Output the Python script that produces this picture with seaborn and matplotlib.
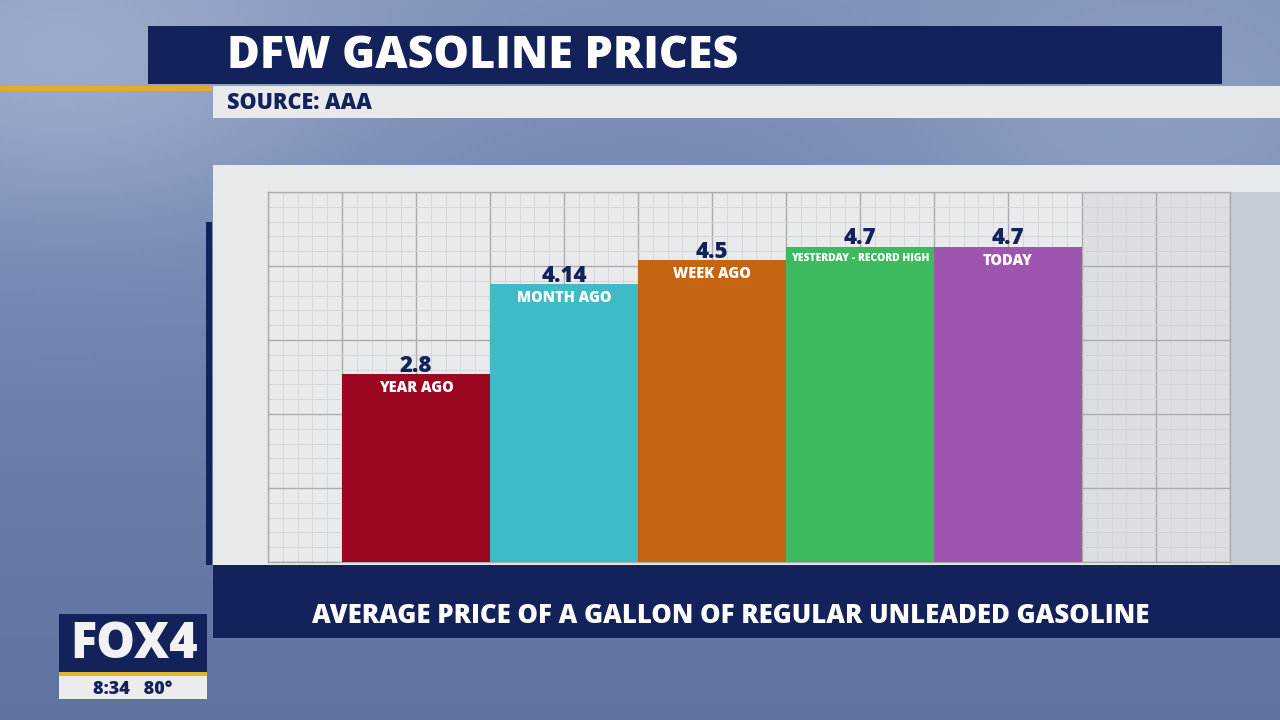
import numpy as np
import pandas as pd
import matplotlib
matplotlib.use("Agg")
import matplotlib.pyplot as plt
from matplotlib.patches import Rectangle
from matplotlib.ticker import MultipleLocator
from matplotlib.colors import LinearSegmentedColormap
import seaborn as sns

# chart data
periods = ["YEAR AGO", "MONTH AGO", "WEEK AGO", "YESTERDAY - RECORD HIGH", "TODAY"]
prices = [2.8, 4.14, 4.5, 4.7, 4.7]
price_labels = ["2.8", "4.14", "4.5", "4.7", "4.7"]
bar_colors = ["#9b0620", "#3ebbc7", "#c56512", "#3dba5e", "#9e55b0"]

title = "DFW GASOLINE PRICES"
source = "SOURCE: AAA"
caption = "AVERAGE PRICE OF A GALLON OF REGULAR UNLEADED GASOLINE"

NAVY = "#13225a"
GOLD = "#e6a92a"
PANEL = "#e8e9ea"
W, H = 1280, 720

plt.rcParams['font.family'] = ['Open Sans', 'DejaVu Sans']

fig = plt.figure(figsize=(12.8, 7.2), dpi=100)


def px_rect(x0, y0, x1, y1, color, z=1):
    r = Rectangle((x0 / W, 1 - y1 / H), (x1 - x0) / W, (y1 - y0) / H,
                  transform=fig.transFigure, facecolor=color, lw=0, zorder=z)
    fig.add_artist(r)


def px_text(x, y, s, **kw):
    kw.setdefault('zorder', 20)
    fig.text(x / W, 1 - y / H, s, **kw)


# studio background
bg_ax = fig.add_axes([0, 0, 1, 1], zorder=-10)
yy, xx = np.mgrid[0:1:180j, 0:1:320j]
shade = 0.55 - 0.3 * yy + 0.25 * np.exp(-((xx - 0.05) ** 2 + (yy - 0.1) ** 2) / 0.05) \
    + 0.15 * np.exp(-((xx - 0.9) ** 2 + (yy - 0.2) ** 2) / 0.04)
bg_cmap = LinearSegmentedColormap.from_list("bg", ["#45598c", "#7a8cb6", "#b7c3db"])
bg_ax.imshow(shade, cmap=bg_cmap, aspect='auto', extent=[0, 1, 0, 1], vmin=0, vmax=1)
bg_ax.axis('off')

# header
px_rect(148, 26, 1222, 84, NAVY, 2)
px_rect(0, 86, 212, 91, GOLD, 2)
px_rect(213, 86, 1280, 118, PANEL, 2)
px_text(227, 57, title, fontsize=32.2, weight=800, color='white', va='center')
px_text(227, 103, source, fontsize=15.5, weight=800, color=NAVY, va='center')

# chart panel
px_rect(213, 165, 1280, 192, PANEL, 2)
px_rect(213, 192, 1230, 565, PANEL, 2)
px_rect(1230, 192, 1280, 565, "#c6ccd7", 2)
px_rect(206, 222, 212, 565, NAVY, 2)

ax = fig.add_axes([268 / W, 1 - 562 / H, 962 / W, 370 / H], zorder=5)
ax.set_facecolor("#e9eaeb")
df = pd.DataFrame({"period": periods, "price": prices})
sns.barplot(data=df, x="period", y="price", hue="period", palette=bar_colors,
            legend=False, width=1.0, saturation=1, linewidth=0, ax=ax, zorder=3)
ax.axvspan(4.5, 5.5, color="#c3c9d3", alpha=0.35, zorder=0, lw=0)

ax.set_xlim(-1, 5.5)
ax.set_ylim(0, 5.52)
ax.xaxis.set_major_locator(MultipleLocator(0.5))
ax.xaxis.set_minor_locator(MultipleLocator(0.1))
ax.yaxis.set_major_locator(MultipleLocator(5.52 / 5))
ax.yaxis.set_minor_locator(MultipleLocator(5.52 / 25))
ax.set_axisbelow(True)
ax.grid(True, which='major', color='#acacac', lw=1.0)
ax.grid(True, which='minor', color='#d3d4d5', lw=0.6)
ax.tick_params(which='both', length=0, labelbottom=False, labelleft=False)
ax.set_xlabel("")
ax.set_ylabel("")
for sp in ax.spines.values():
    sp.set_color('#acacac')
    sp.set_linewidth(1.0)

for i, (p, lab, name) in enumerate(zip(prices, price_labels, periods)):
    ax.annotate(lab, (i, p), xytext=(0, 2), textcoords='offset points',
                ha='center', va='baseline', fontsize=16, weight=800, color=NAVY, zorder=6)
    fs = 7.5 if len(name) > 12 else 10.5
    ax.annotate(name, (i, p), xytext=(0, -4), textcoords='offset points',
                ha='center', va='top', fontsize=fs, weight=800, color='white', zorder=6)

# caption band
px_rect(213, 565, 1280, 638, NAVY, 6)
px_text(731, 616, caption, fontsize=18.5, weight=800, color='white',
        ha='center', va='center')

# station bug
px_rect(59, 614, 207, 672, NAVY, 6)
px_rect(59, 672, 207, 676, "#e5b52c", 6)
px_rect(59, 676, 207, 699, "#ececec", 6)
px_text(134, 645, "FOX4", fontsize=35, weight=800, color='#f2f2f2',
        ha='center', va='center')
px_text(133, 689, "8:34   80°", fontsize=13, weight=800, color=NAVY,
        ha='center', va='center')

fig.savefig("out.png", dpi=100)
